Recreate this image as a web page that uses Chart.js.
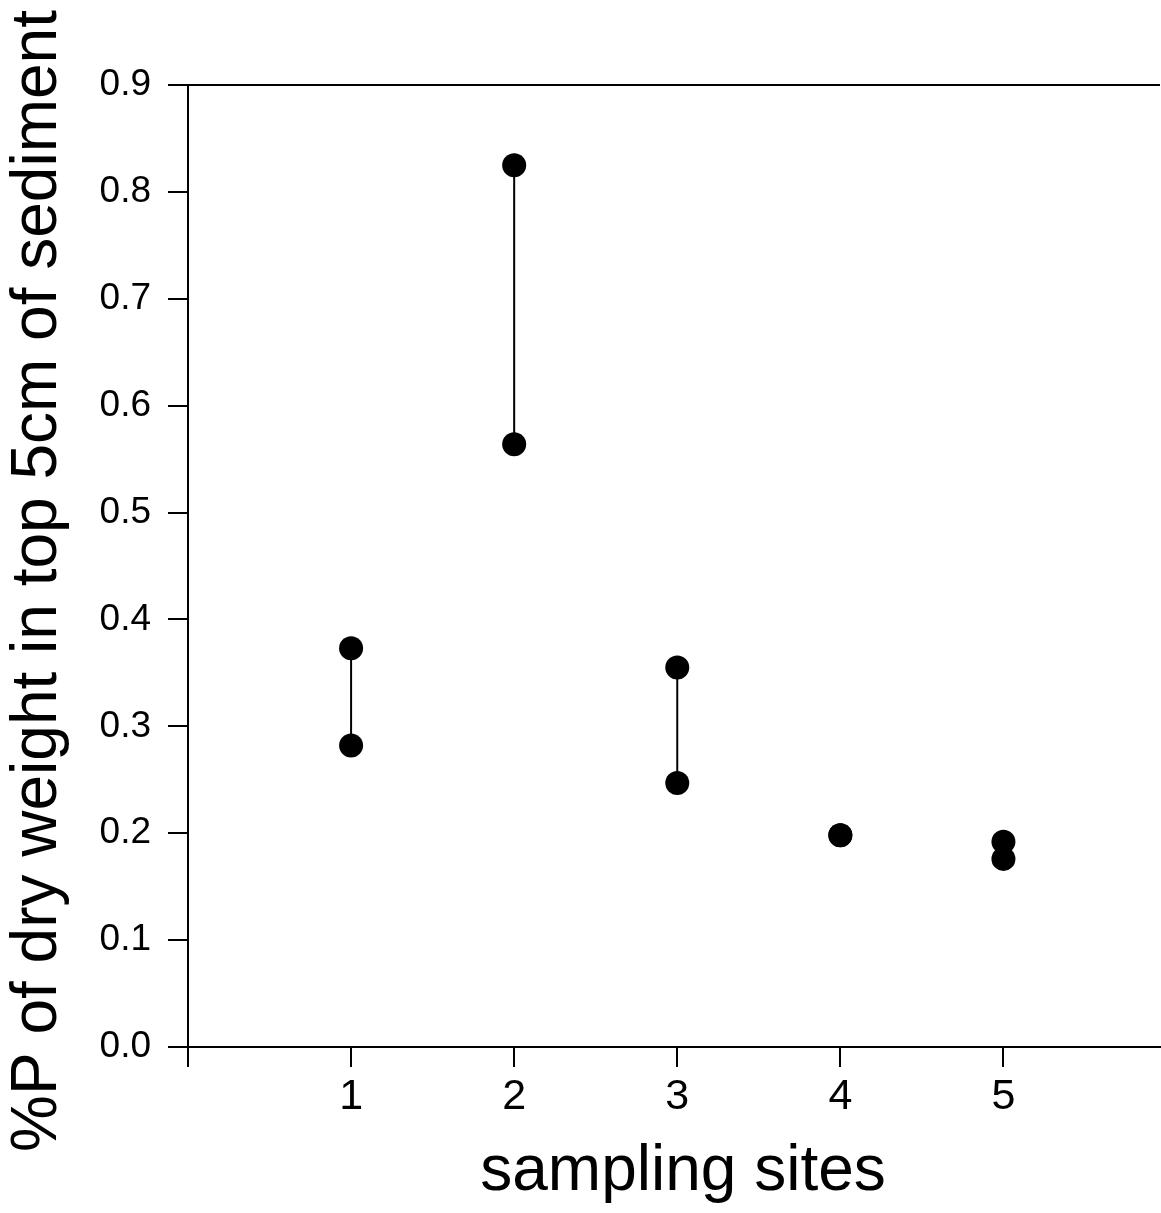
<!DOCTYPE html>
<html>
<head>
<meta charset="utf-8">
<script src="https://cdn.jsdelivr.net/npm/chart.js@4.4.1/dist/chart.umd.min.js"></script>
<style>
  html, body { margin: 0; padding: 0; background: #fff; overflow: hidden; }
  #wrap { width: 1161px; height: 1213px; }
  canvas { display: block; }
</style>
</head>
<body>
<div id="wrap"><canvas id="pChart"></canvas></div>
<script>
var sites = [1, 2, 3, 4, 5];
var upperP = [0.373, 0.825, 0.355, 0.198, 0.192];
var lowerP = [0.282, 0.564, 0.247, 0.198, 0.176];
var xTicks = [0, 1, 2, 3, 4, 5];
var yTicks = [0, 0.1, 0.2, 0.3, 0.4, 0.5, 0.6, 0.7, 0.8, 0.9];
var xTitle = 'sampling sites';
var yTitle = '%P of dry weight in top 5cm of sediment';

var fontFam = "'Liberation Sans', Arial, Helvetica, sans-serif";

// one little line dataset per site: low point joined to high point
var siteSets = sites.map(function (s, i) {
  return {
    label: 'site ' + s,
    data: [{x: s, y: lowerP[i]}, {x: s, y: upperP[i]}],
    showLine: true,
    borderColor: '#000',
    borderWidth: 2,
    pointRadius: 12,
    pointBackgroundColor: '#000',
    pointBorderColor: '#000',
    pointBorderWidth: 0
  };
});

// top frame line + the two axis titles (placed a bit off-centre like the original)
var frameAndTitles = {
  id: 'frameAndTitles',
  afterDraw: function (chart) {
    var a = chart.chartArea, ctx = chart.ctx;
    ctx.save();
    ctx.strokeStyle = '#000';
    ctx.lineWidth = 2;
    ctx.beginPath();
    ctx.moveTo(a.left, a.top);
    ctx.lineTo(a.right, a.top);
    ctx.stroke();

    ctx.fillStyle = '#000';
    ctx.font = '64px ' + fontFam;
    ctx.textAlign = 'center';
    ctx.textBaseline = 'middle';
    ctx.fillText(xTitle, (a.left + a.right) / 2 + 9, chart.height - 41);

    ctx.translate(38, (a.top + a.bottom) / 2 + 15);
    ctx.rotate(-Math.PI / 2);
    ctx.fillText(yTitle, 0, 0);
    ctx.restore();
  }
};

new Chart(document.getElementById('pChart'), {
  type: 'scatter',
  data: { datasets: siteSets },
  plugins: [frameAndTitles],
  options: {
    responsive: true,
    maintainAspectRatio: false,
    animation: false,
    layout: { autoPadding: false, padding: { top: 85, right: 1, bottom: 3, left: 0 } },
    plugins: { legend: { display: false }, tooltip: { enabled: false } },
    scales: {
      x: {
        type: 'linear',
        min: 0,
        max: 5.96,
        afterBuildTicks: function (sc) { sc.ticks = xTicks.map(function (v) { return {value: v}; }); },
        afterFit: function (sc) { sc.height = 163; sc.paddingLeft = 0; sc.paddingRight = 0; },
        border: { display: true, color: '#000', width: 2 },
        grid: { drawOnChartArea: false, drawTicks: true, tickLength: 20, color: '#000', lineWidth: 2 },
        ticks: {
          color: '#000',
          padding: 4,
          maxRotation: 0,
          font: { family: fontFam, size: 43 },
          callback: function (v) { return v === 0 ? '' : String(v); }
        }
      },
      y: {
        type: 'linear',
        min: 0,
        max: 0.9,
        afterBuildTicks: function (sc) { sc.ticks = yTicks.map(function (v) { return {value: v}; }); },
        afterFit: function (sc) { sc.width = 188; sc.paddingTop = 0; sc.paddingBottom = 0; },
        border: { display: true, color: '#000', width: 2 },
        grid: { drawOnChartArea: false, drawTicks: true, tickLength: 20, color: '#000', lineWidth: 2 },
        ticks: {
          color: '#000',
          padding: 17,
          font: { family: fontFam, size: 37 },
          callback: function (v) { return Number(v).toFixed(1); }
        }
      }
    }
  }
});
</script>
</body>
</html>
